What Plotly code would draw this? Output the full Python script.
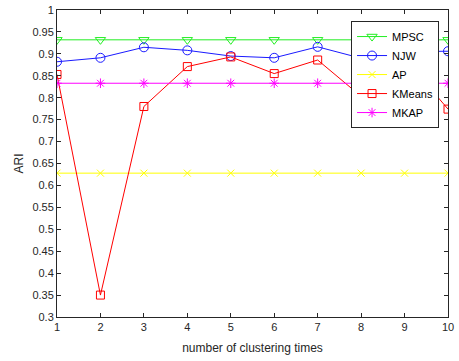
import plotly.graph_objects as go

x = [1, 2, 3, 4, 5, 6, 7, 8, 9, 10]
mpsc = [0.932] * 10
njw = [0.882, 0.891, 0.915, 0.908, 0.895, 0.891, 0.916, 0.890, 0.905, 0.906]
ap = [0.628] * 10
kmeans = [0.853, 0.350, 0.780, 0.871, 0.893, 0.855, 0.886, 0.803, 0.890, 0.774]
mkap = [0.833] * 10
y_ticks = [0.3, 0.35, 0.4, 0.45, 0.5, 0.55, 0.6, 0.65, 0.7, 0.75, 0.8, 0.85, 0.9, 0.95, 1]
y_labels = ["0.3", "0.35", "0.4", "0.45", "0.5", "0.55", "0.6", "0.65", "0.7", "0.75",
            "0.8", "0.85", "0.9", "0.95", "1"]

series = [
    ("MPSC", mpsc, "#22ee22", "triangle-down-open", 9),
    ("NJW", njw, "#1a1aff", "circle-open", 9),
    ("AP", ap, "#ffff00", "x-thin-open", 7),
    ("KMeans", kmeans, "#ff0000", "square-open", 8),
    ("MKAP", mkap, "#ff00ff", "asterisk-open", 8),
]

fig = go.Figure()
for name, vals, color, sym, size in series:
    fig.add_trace(go.Scatter(
        x=x, y=vals, name=name, mode="lines+markers",
        line=dict(color=color, width=1),
        marker=dict(symbol=sym, size=size, color=color, line=dict(color=color, width=1)),
    ))

axis_common = dict(
    showline=True, linecolor="#262626", linewidth=1, mirror="ticks",
    ticks="inside", ticklen=4, tickcolor="#262626", showgrid=False, zeroline=False,
    automargin=False,
    tickfont=dict(family="Liberation Sans, Arial", size=11, color="#262626"),
)

fig.update_layout(
    width=459, height=361,
    margin=dict(l=57, r=11, t=10, b=44),
    paper_bgcolor="white", plot_bgcolor="white",
    font=dict(family="Liberation Sans, Arial", size=12, color="#262626"),
    xaxis=dict(range=[1, 10], tickvals=x,
               title=dict(text="number of clustering times", font=dict(size=12), standoff=11),
               **axis_common),
    yaxis=dict(range=[0.3, 1], tickvals=y_ticks, ticktext=y_labels,
               title=dict(text="ARI", font=dict(size=12), standoff=6),
               **axis_common),
    legend=dict(
        x=0.752, y=0.964, xanchor="left", yanchor="top",
        bgcolor="white", bordercolor="#262626", borderwidth=1,
        font=dict(family="Liberation Sans, Arial", size=11, color="#000000"),
        tracegroupgap=0, itemwidth=30,
    ),
    showlegend=True,
)

fig.write_html("out.html", config={"displayModeBar": False},
               post_script="document.body.style.margin='0';")
